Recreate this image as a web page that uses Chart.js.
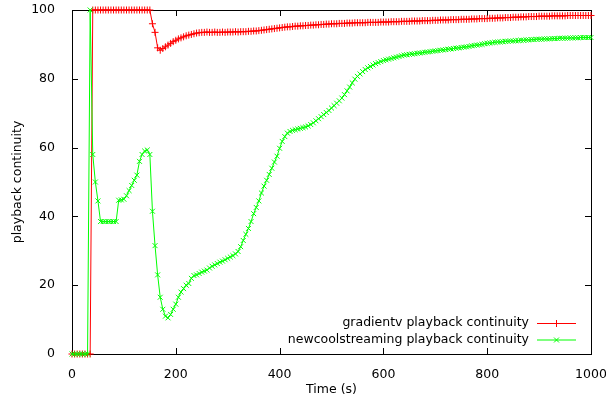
<!DOCTYPE html>
<html>
<head>
<meta charset="utf-8">
<script src="https://cdn.jsdelivr.net/npm/chart.js@4"></script>
<style>
  html, body { margin: 0; padding: 0; background: #fff; }
  #wrap { width: 606px; height: 403px; }
</style>
</head>
<body>
<div id="wrap"><canvas id="chart" width="606" height="403"></canvas></div>
<script>
// sample times (s), one sample every 5 s
const times = [
  0, 5, 10, 15, 20, 25, 30, 35, 40, 45, 50, 55, 60, 65, 70, 75, 80, 85, 90, 95,
  100, 105, 110, 115, 120, 125, 130, 135, 140, 145, 150, 155, 160, 165, 170, 175, 180, 185, 190, 195,
  200, 205, 210, 215, 220, 225, 230, 235, 240, 245, 250, 255, 260, 265, 270, 275, 280, 285, 290, 295,
  300, 305, 310, 315, 320, 325, 330, 335, 340, 345, 350, 355, 360, 365, 370, 375, 380, 385, 390, 395,
  400, 405, 410, 415, 420, 425, 430, 435, 440, 445, 450, 455, 460, 465, 470, 475, 480, 485, 490, 495,
  500, 505, 510, 515, 520, 525, 530, 535, 540, 545, 550, 555, 560, 565, 570, 575, 580, 585, 590, 595,
  600, 605, 610, 615, 620, 625, 630, 635, 640, 645, 650, 655, 660, 665, 670, 675, 680, 685, 690, 695,
  700, 705, 710, 715, 720, 725, 730, 735, 740, 745, 750, 755, 760, 765, 770, 775, 780, 785, 790, 795,
  800, 805, 810, 815, 820, 825, 830, 835, 840, 845, 850, 855, 860, 865, 870, 875, 880, 885, 890, 895,
  900, 905, 910, 915, 920, 925, 930, 935, 940, 945, 950, 955, 960, 965, 970, 975, 980, 985, 990, 995,
  1000
];

const gradientvContinuity = [
  0, 0, 0, 0, 0, 0, 0, 0,
  100, 100, 100, 100, 100, 100, 100, 100, 100, 100, 100, 100, 100, 100, 100, 100, 100, 100, 100, 100, 100, 100, 100,
  96, 93.5, 89, 88.3, 88.8, 89.3, 89.8, 90.3, 90.8, 91.2,
  91.6, 91.9, 92.2, 92.5, 92.7, 92.9, 93.1, 93.3, 93.4, 93.5,
  93.5, 93.6, 93.5, 93.5, 93.6, 93.5, 93.5, 93.6, 93.5, 93.6,
  93.6, 93.6, 93.7, 93.6, 93.7, 93.7, 93.7, 93.8, 93.8, 93.9,
  93.9, 94, 94.1, 94.2, 94.3, 94.4, 94.5, 94.6, 94.7, 94.8,
  94.9, 95, 95.1, 95.1, 95.2, 95.3, 95.3, 95.4, 95.4, 95.5,
  95.5, 95.6, 95.6, 95.7, 95.7, 95.8, 95.8, 95.9, 95.9, 96,
  96, 96, 96.1, 96.1, 96.1, 96.2, 96.2, 96.2, 96.3, 96.3,
  96.3, 96.3, 96.3, 96.4, 96.4, 96.4, 96.4, 96.4, 96.5, 96.5,
  96.5, 96.5, 96.6, 96.6, 96.6, 96.6, 96.7, 96.7, 96.7, 96.7,
  96.8, 96.8, 96.8, 96.8, 96.9, 96.9, 96.9, 96.9, 97, 97,
  97, 97.1, 97.1, 97.1, 97.1, 97.2, 97.2, 97.2, 97.2, 97.3,
  97.3, 97.3, 97.3, 97.4, 97.4, 97.4, 97.5, 97.5, 97.5, 97.5,
  97.6, 97.6, 97.6, 97.7, 97.7, 97.7, 97.8, 97.8, 97.8, 97.9,
  97.9, 97.9, 98, 98, 98, 98.1, 98.1, 98.1, 98.1, 98.2,
  98.2, 98.2, 98.2, 98.2, 98.3, 98.3, 98.3, 98.3, 98.3, 98.3,
  98.4, 98.4, 98.4, 98.4, 98.4, 98.4, 98.4, 98.4, 98.4, 98.4
];

const coolstreamContinuity = [
  0, 0, 0, 0, 0, 0, 0, 100, 58, 50,
  44.5, 38.5, 38.5, 38.5, 38.5, 38.5, 38.5, 38.5, 44.7, 44.8,
  45, 46, 47.5, 49, 50.5, 52, 56, 58, 59, 59.3,
  58, 41.5, 31.5, 23, 16.5, 13, 11, 10.5, 11.5, 13,
  14.5, 16.5, 18, 19, 20, 20.5, 22, 22.8, 23, 23.4,
  23.8, 24.1, 24.4, 25, 25.5, 25.9, 26.3, 26.7, 27, 27.4,
  27.8, 28.2, 28.6, 29.1, 29.8, 31.2, 33, 34.8, 36.5, 38.5,
  40.8, 42.6, 44.5, 46.8, 48.8, 50.5, 52.2, 54, 55.8, 57.5,
  59.8, 61.8, 63.2, 64.2, 64.7, 65, 65.2, 65.4, 65.6, 65.8,
  66, 66.3, 66.7, 67.2, 67.8, 68.4, 69, 69.6, 70.2, 70.8,
  71.5, 72.2, 72.9, 73.6, 74.4, 75.4, 76.5, 77.6, 78.8, 79.9,
  80.7, 81.4, 82.1, 82.7, 83.2, 83.6, 84, 84.4, 84.7, 85,
  85.3, 85.5, 85.7, 85.9, 86.1, 86.3, 86.5, 86.7, 86.9, 87,
  87.1, 87.2, 87.3, 87.4, 87.5, 87.6, 87.7, 87.8, 87.9, 88,
  88.1, 88.2, 88.3, 88.4, 88.5, 88.6, 88.7, 88.8, 88.9, 89,
  89.1, 89.2, 89.3, 89.4, 89.6, 89.7, 89.8, 89.9, 90, 90.2,
  90.3, 90.4, 90.5, 90.6, 90.7, 90.7, 90.8, 90.9, 90.9, 91,
  91, 91.1, 91.1, 91.2, 91.2, 91.3, 91.3, 91.4, 91.4, 91.5,
  91.5, 91.5, 91.6, 91.6, 91.6, 91.7, 91.7, 91.7, 91.8, 91.8,
  91.8, 91.8, 91.9, 91.9, 91.9, 91.9, 92, 92, 92, 92,
  92
];

const seriesLabels = ["gradientv playback continuity", "newcoolstreaming playback continuity"];
const xTicks = [0, 200, 400, 600, 800, 1000];
const yTicks = [0, 20, 40, 60, 80, 100];

const FONT = "DejaVu Sans";
const RED = "#ff0000";
const GREEN = "#00ff00";

const toPoints = (vals) => times.map((t, i) => ({ x: t, y: vals[i] }));

// gnuplot-like frame with inward ticks on all four sides
const framePlugin = {
  id: "frame",
  beforeDatasetsDraw(chart) {
    const { ctx, chartArea: a, scales } = chart;
    const len = 6;
    ctx.save();
    ctx.strokeStyle = "#000";
    ctx.lineWidth = 1;
    ctx.beginPath();
    xTicks.forEach(v => {
      const px = Math.round(scales.x.getPixelForValue(v)) + 0.5;
      ctx.moveTo(px, a.bottom); ctx.lineTo(px, a.bottom - len);
      ctx.moveTo(px, a.top); ctx.lineTo(px, a.top + len);
    });
    yTicks.forEach(v => {
      const py = Math.round(scales.y.getPixelForValue(v)) + 0.5;
      ctx.moveTo(a.left, py); ctx.lineTo(a.left + len, py);
      ctx.moveTo(a.right, py); ctx.lineTo(a.right - len, py);
    });
    ctx.stroke();
    ctx.strokeRect(Math.round(a.left) + 0.5, Math.round(a.top) + 0.5,
      Math.round(a.right - a.left), Math.round(a.bottom - a.top));
    ctx.restore();
  }
};

// key in the lower right corner: text, then a line sample with its marker
const keyPlugin = {
  id: "key",
  afterDatasetsDraw(chart) {
    const { ctx } = chart;
    const textRight = 529, lineStart = 537, lineEnd = 576;
    const rows = [323, 339.5];
    ctx.save();
    chart.data.datasets.forEach((ds, i) => {
      const y = rows[i];
      ctx.fillStyle = "#000";
      ctx.font = "12.5px '" + FONT + "'";
      ctx.textAlign = "right";
      ctx.textBaseline = "middle";
      ctx.fillText(ds.label, textRight, y);
      ctx.strokeStyle = ds.borderColor;
      ctx.lineWidth = 1;
      ctx.beginPath();
      ctx.moveTo(lineStart, y + 0.5); ctx.lineTo(lineEnd, y + 0.5);
      ctx.stroke();
      Chart.helpers.drawPoint(ctx, {
        pointStyle: ds.pointStyle, radius: ds.pointRadius, borderWidth: 1, rotation: 0
      }, (lineStart + lineEnd) / 2, y + 0.5);
    });
    ctx.restore();
  }
};

new Chart(document.getElementById("chart"), {
  type: "line",
  data: {
    datasets: [
      {
        label: seriesLabels[0],
        data: toPoints(gradientvContinuity),
        borderColor: RED,
        backgroundColor: RED,
        borderWidth: 1,
        pointStyle: "cross",
        pointRadius: 3.5,
        pointBorderWidth: 1,
        tension: 0,
        order: 2
      },
      {
        label: seriesLabels[1],
        data: toPoints(coolstreamContinuity),
        borderColor: GREEN,
        backgroundColor: GREEN,
        borderWidth: 1,
        pointStyle: "crossRot",
        pointRadius: 3.5,
        pointBorderWidth: 1,
        tension: 0,
        order: 1
      }
    ]
  },
  options: {
    responsive: false,
    animation: false,
    clip: false,
    layout: { padding: { left: 0, right: 15, top: 10, bottom: 0 } },
    plugins: {
      legend: { display: false },
      tooltip: { enabled: false }
    },
    scales: {
      x: {
        type: "linear",
        min: 0,
        max: 1000,
        afterBuildTicks: s => { s.ticks = xTicks.map(v => ({ value: v })); },
        afterFit: s => { s.height = 49; s.paddingLeft = 0; s.paddingRight = 0; },
        grid: { display: false },
        border: { display: false },
        ticks: {
          color: "#000", padding: 5, maxRotation: 0,
          font: { family: FONT, size: 12.5 },
          callback: v => String(v)
        },
        title: {
          display: true,
          text: "Time (s)",
          color: "#000",
          padding: { top: 0, bottom: 5.5 },
          font: { family: FONT, size: 12.5 }
        }
      },
      y: {
        min: 0,
        max: 100,
        afterBuildTicks: s => { s.ticks = yTicks.map(v => ({ value: v })); },
        afterFit: s => { s.width = 72; s.paddingTop = 0; s.paddingBottom = 0; },
        grid: { display: false },
        border: { display: false },
        ticks: {
          color: "#000", padding: 9,
          font: { family: FONT, size: 12.5 },
          callback: v => String(v)
        },
        title: {
          display: true,
          text: "playback continuity",
          color: "#000",
          padding: { top: 10.5, bottom: 0 },
          font: { family: FONT, size: 12.5 }
        }
      }
    }
  },
  plugins: [framePlugin, keyPlugin]
});
</script>
</body>
</html>
